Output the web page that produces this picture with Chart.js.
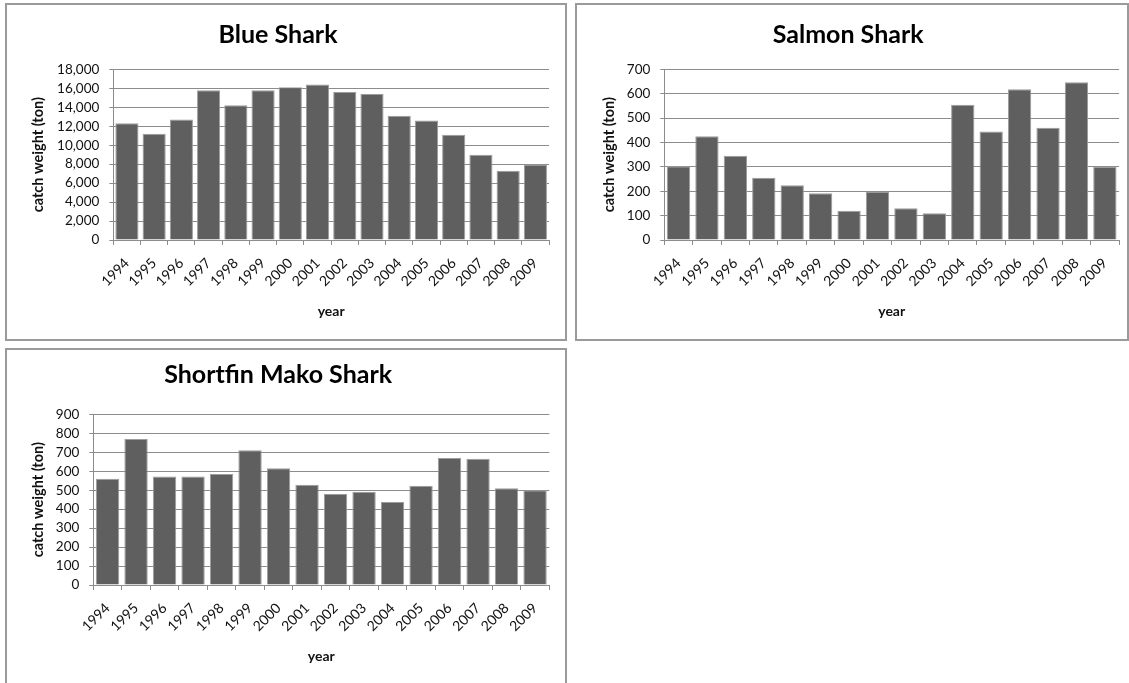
<!DOCTYPE html>
<html>
<head>
<meta charset="utf-8">
<script src="https://cdn.jsdelivr.net/npm/chart.js@4.4.1/dist/chart.umd.min.js"></script>
<style>
  html, body { margin: 0; padding: 0; background: #fff; width: 1129px; height: 683px; overflow: hidden; position: relative; }
  .box { position: absolute; box-sizing: border-box; border: 2px solid #9a9a9a; background: #fff; }
  .box canvas { position: absolute; left: 0; top: 0; }
</style>
</head>
<body>
<div class="box" style="left:5px; top:3px; width:562px; height:338px;"><canvas id="c1" width="558" height="334" style="width:558px;height:334px"></canvas></div>
<div class="box" style="left:575px; top:3px; width:554px; height:338px;"><canvas id="c2" width="550" height="334" style="width:550px;height:334px"></canvas></div>
<div class="box" style="left:5px; top:348px; width:562px; height:340px;"><canvas id="c3" width="558" height="334" style="width:558px;height:334px"></canvas></div>
<script>
// ---- data ----
const years = ['1994','1995','1996','1997','1998','1999','2000','2001','2002','2003','2004','2005','2006','2007','2008','2009'];
const blueShark   = [12300, 11200, 12700, 15800, 14200, 15800, 16100, 16400, 15600, 15400, 13100, 12600, 11100, 9000, 7300, 7950];
const salmonShark = [302, 425, 345, 255, 225, 192, 120, 197, 130, 110, 555, 445, 618, 460, 647, 300];
const makoShark   = [560, 770, 572, 572, 585, 710, 615, 528, 480, 492, 438, 523, 670, 665, 510, 500];
const titles = ['Blue Shark', 'Salmon Shark', 'Shortfin Mako Shark'];
const yMax = [18000, 700, 900];
const yStep = [2000, 100, 100];
const yTitle = 'catch weight (ton)';
const xTitle = 'year';

const FONT = 'Lato, "Open Sans", "DejaVu Sans", sans-serif';
const GRID = '#8c8c8c';
const BAR = '#5f5f5f';

function makeChart(id, values, idx, cfg) {
  new Chart(document.getElementById(id), {
    type: 'bar',
    data: {
      labels: years,
      datasets: [{
        data: values,
        backgroundColor: BAR,
        borderColor: '#9c9c9c',
        borderWidth: 1,
        barPercentage: cfg.barPct,
        categoryPercentage: 1.0
      }]
    },
    options: {
      responsive: false,
      animation: false,
      layout: { padding: { left: 0, right: cfg.padRight, top: 0, bottom: 0 } },
      plugins: {
        legend: { display: false },
        tooltip: { enabled: false },
        title: {
          display: true,
          text: titles[idx],
          color: '#000',
          font: { family: FONT, size: 25, weight: 'bold', lineHeight: 1.2 },
          padding: { top: cfg.titleTop, bottom: cfg.titleBottom }
        }
      },
      scales: {
        x: {
          grid: { display: true, drawOnChartArea: false, drawTicks: true, tickLength: 5, color: GRID, offset: true },
          border: { display: true, color: GRID, width: 1 },
          ticks: { color: '#111', font: { family: FONT, size: 14 }, maxRotation: 45, minRotation: 45, padding: 10, autoSkip: false },
          title: { display: true, text: xTitle, color: '#111', font: { family: FONT, size: 14, weight: 'bold', lineHeight: 1.2 }, padding: { top: 4, bottom: 18.9 } },
          afterFit: (s) => { s.height = 99; }
        },
        y: {
          min: 0,
          max: yMax[idx],
          grid: { display: true, drawOnChartArea: true, drawTicks: true, tickLength: 4, color: GRID },
          border: { display: true, color: GRID, width: 1 },
          ticks: { stepSize: yStep[idx], autoSkip: false, color: '#111', font: { family: FONT, size: 13.5 }, padding: 10 },
          title: { display: true, text: yTitle, color: '#111', font: { family: FONT, size: 14.5, weight: 'bold', lineHeight: 1.2 }, padding: { top: cfg.yTitlePad, bottom: 2 } },
          afterFit: (s) => { s.width = cfg.plotLeft; }
        }
      }
    }
  });
}

makeChart('c1', blueShark, 0,   { barPct: 0.85, padRight: 16,  titleTop: 14.7, titleBottom: 19.6, plotLeft: 106.3, yTitlePad: 22.3 });
makeChart('c2', salmonShark, 1, { barPct: 0.82, padRight: 7.7, titleTop: 14.7, titleBottom: 19.6, plotLeft: 87.3,  yTitlePad: 23.8 });
makeChart('c3', makoShark, 2,   { barPct: 0.82, padRight: 15.7, titleTop: 9.6, titleBottom: 24.7, plotLeft: 86.3, yTitlePad: 22.3 });
</script>
</body>
</html>
